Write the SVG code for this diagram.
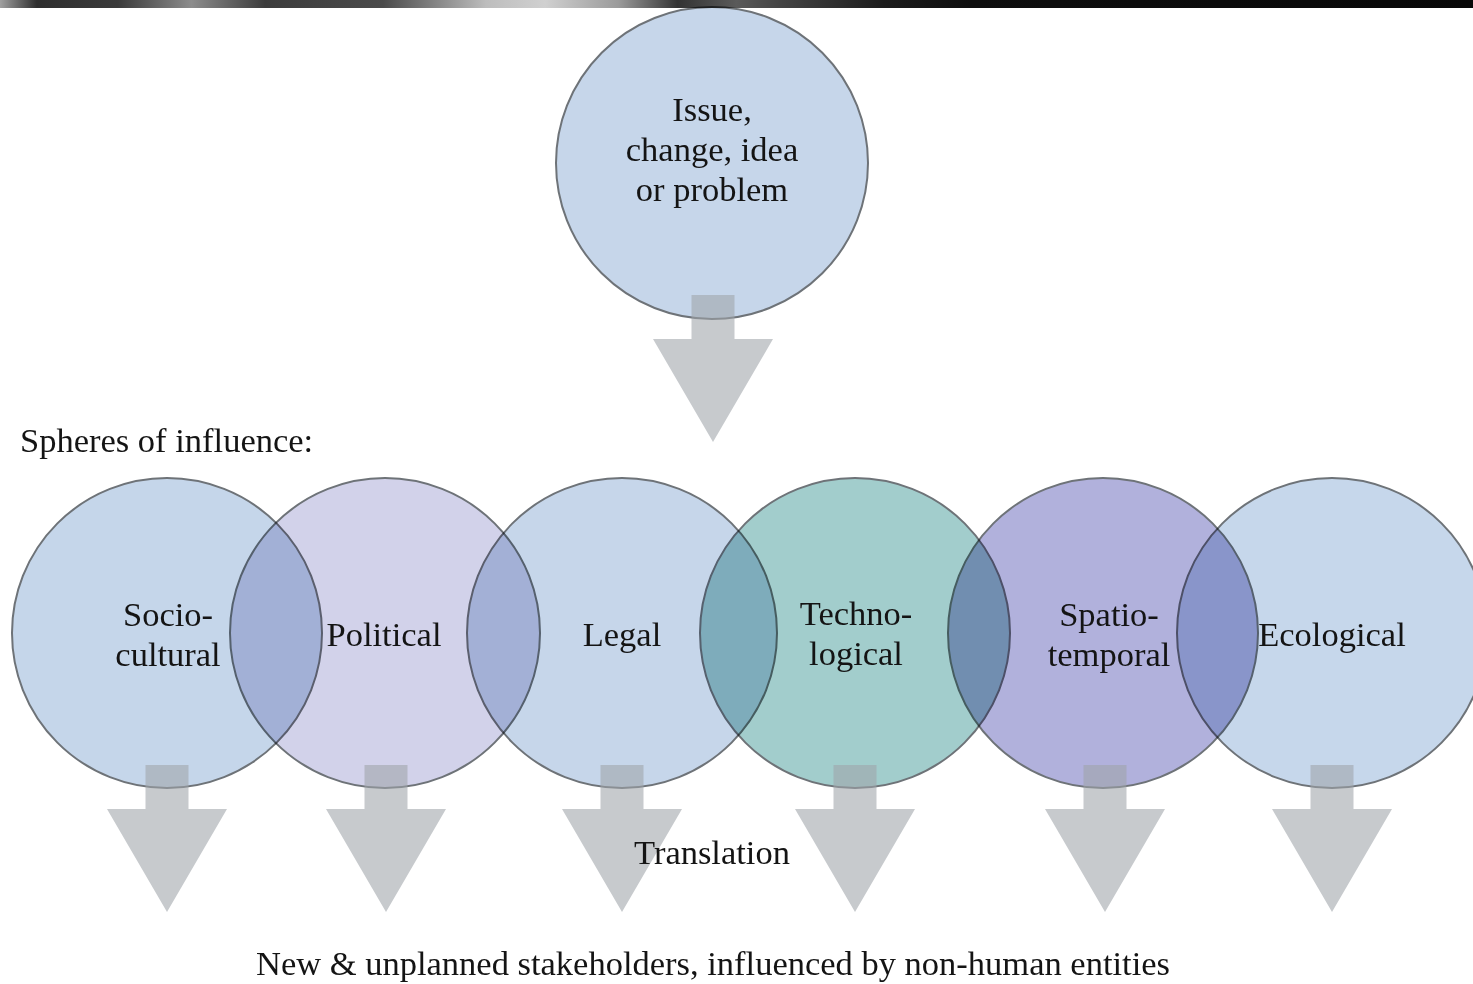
<svg xmlns="http://www.w3.org/2000/svg" width="1473" height="984" viewBox="0 0 1473 984">
  <style>
    .sphere { stroke: #6e7378; stroke-width: 2; mix-blend-mode: multiply; }
    .lbl { font-family: "Liberation Serif", "Times New Roman", serif; font-size: 34.5px; fill: #141414; text-anchor: middle; }
    .free { font-family: "Liberation Serif", "Times New Roman", serif; font-size: 34.5px; fill: #141414; }
    .arrow { fill: #9fa4a9; fill-opacity: 0.58; }
  </style>
  <defs>
    <linearGradient id="barGrad" x1="0" y1="0" x2="1" y2="0">
      <stop offset="0" stop-color="#a0a0a0"/>
      <stop offset="0.025" stop-color="#2e2e2e"/>
      <stop offset="0.08" stop-color="#3a3a3a"/>
      <stop offset="0.13" stop-color="#8c8c8c"/>
      <stop offset="0.18" stop-color="#3c3c3c"/>
      <stop offset="0.26" stop-color="#4a4a4a"/>
      <stop offset="0.33" stop-color="#bdbdbd"/>
      <stop offset="0.37" stop-color="#d0d0d0"/>
      <stop offset="0.42" stop-color="#9a9a9a"/>
      <stop offset="0.46" stop-color="#333333"/>
      <stop offset="0.5" stop-color="#5a5a5a"/>
      <stop offset="0.53" stop-color="#444444"/>
      <stop offset="0.6" stop-color="#1c1c1c"/>
      <stop offset="0.66" stop-color="#0e0e0e"/>
      <stop offset="1" stop-color="#080808"/>
    </linearGradient>
    <!-- block arrow: stem 43 wide, head 120 wide, total height 147 -->
    <path id="blockArrow" d="M-21.5,0 H21.5 V44 H60 L0,147 L-60,44 H-21.5 Z"/>
  </defs>

  <rect x="0" y="0" width="1473" height="984" fill="#ffffff"/>

  <!-- header bar -->
  <rect x="0" y="0" width="1473" height="8" fill="url(#barGrad)"/>

  <!-- central issue -->
  <g id="issue">
    <circle class="sphere" cx="712" cy="163" r="156" fill="#c6d6ea"/>
    <text class="lbl" x="712" y="121">Issue,</text>
    <text class="lbl" x="712" y="161">change, idea</text>
    <text class="lbl" x="712" y="201">or problem</text>
  </g>

  <text id="spheres-heading" class="free" x="20" y="452">Spheres of influence:</text>

  <!-- spheres of influence -->
  <g id="socio-cultural">
    <circle class="sphere" cx="167" cy="633" r="155" fill="#c5d6ea"/>
    <text class="lbl" x="168" y="626">Socio-</text>
    <text class="lbl" x="168" y="666">cultural</text>
  </g>
  <g id="political">
    <circle class="sphere" cx="385" cy="633" r="155" fill="#d2d2ea"/>
    <text class="lbl" x="384" y="646">Political</text>
  </g>
  <g id="legal">
    <circle class="sphere" cx="622" cy="633" r="155" fill="#c6d6ea"/>
    <text class="lbl" x="622" y="646">Legal</text>
  </g>
  <g id="technological">
    <circle class="sphere" cx="855" cy="633" r="155" fill="#a2cdcc"/>
    <text class="lbl" x="856" y="625">Techno-</text>
    <text class="lbl" x="856" y="665">logical</text>
  </g>
  <g id="spatio-temporal">
    <circle class="sphere" cx="1103" cy="633" r="155" fill="#b1b1dc"/>
    <text class="lbl" x="1109" y="626">Spatio-</text>
    <text class="lbl" x="1109" y="666">temporal</text>
  </g>
  <g id="ecological">
    <circle class="sphere" cx="1332" cy="633" r="155" fill="#c6d7eb"/>
    <text class="lbl" x="1332" y="646">Ecological</text>
  </g>

  <!-- downward block arrows -->
  <g id="connectors">
    <use href="#blockArrow" class="arrow" x="713" y="295"/>
    <use href="#blockArrow" class="arrow" x="167" y="765"/>
    <use href="#blockArrow" class="arrow" x="386" y="765"/>
    <use href="#blockArrow" class="arrow" x="622" y="765"/>
    <use href="#blockArrow" class="arrow" x="855" y="765"/>
    <use href="#blockArrow" class="arrow" x="1105" y="765"/>
    <use href="#blockArrow" class="arrow" x="1332" y="765"/>
  </g>

  <text id="translation" class="lbl" x="712" y="864">Translation</text>
  <text id="stakeholders" class="lbl" x="713" y="975">New &amp; unplanned stakeholders, influenced by non-human entities</text>
</svg>
